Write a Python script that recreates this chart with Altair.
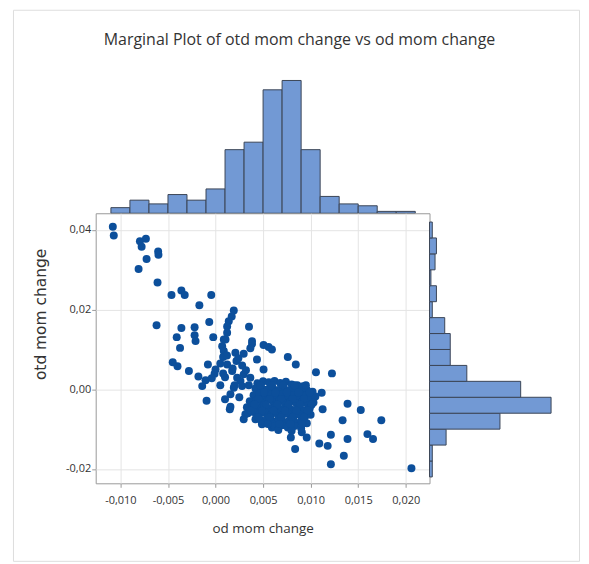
import altair as alt
import pandas as pd

# ---------------- data ----------------
od_mom_change = [
    -0.0108, -0.0107, -0.00795, -0.00732, -0.00777, -0.00725, -0.00809, -0.00603, -0.0060, -0.0061,
    -0.00463, -0.00359, -0.00324, -0.00045, -0.0017, -0.0062, -0.00359, -0.00408, -0.0022, -0.0022,
    -0.0021, -0.00066, -0.00024, 0.00192, 0.0017, 0.00139, 0.00122, 0.00087, 0.00352, 0.00384,
    -0.00373, -0.0045, -0.0040, -0.0028, -0.0018,
    0.00122, 0.00105, 0.0007, 0.00087, 0.0008, -0.0008, 0.0, -0.0001, -0.00105, -0.0014,
    -0.00094, 0.0015, 0.00296, 0.00314, 0.00209, 0.0022, 0.00296, 0.00384, 0.00366, 0.00505,
    0.00558, 0.00593, 0.00436, 0.00505, 0.0076, 0.00844, 0.01056, 0.01224,
    0.00122, 0.00175, 0.00227, 0.00262, 0.00279, 0.00296, 0.00366, 0.00192, 0.00157,
    0.0005, 0.0010, 0.0020, 0.0035, 0.0010, 0.0025, 0.0005,
    0.0012, 0.0028, 0.0018, 0.0032, 0.0008, -0.0004, 0.0024,
    0.01116, 0.01126, 0.01388, 0.01527, 0.01743, 0.01336, 0.01388, 0.01597, 0.01656, 0.01213,
    0.01091, 0.01179, 0.01349, 0.01213, 0.00792, 0.00837, 0.00907, 0.00959, 0.0206, 0.00488,
    0.00593, 0.00157,
    0.0044, 0.0050, 0.0056, 0.0062, 0.0068, 0.0074, 0.0080, 0.0086, 0.0092,
    0.0042, 0.0048, 0.0054, 0.0060, 0.0066, 0.0072, 0.0078, 0.0084, 0.0090, 0.0096, 0.0102,
    0.0040, 0.0046, 0.0052, 0.0058, 0.0064, 0.0070, 0.0076, 0.0082, 0.0088, 0.0094, 0.0100, 0.0105,
    0.0036, 0.0043, 0.0049, 0.0055, 0.0061, 0.0067, 0.0073, 0.0079, 0.0085, 0.0091, 0.0097, 0.0103,
    0.0033, 0.0039, 0.0045, 0.0051, 0.0057, 0.0063, 0.0069, 0.0075, 0.0081, 0.0087, 0.0093, 0.0099,
    0.0034, 0.0040, 0.0046, 0.0052, 0.0058, 0.0064, 0.0070, 0.0076, 0.0082, 0.0088, 0.0094, 0.0100,
    0.0042, 0.0048, 0.0054, 0.0060, 0.0066, 0.0072, 0.0078, 0.0084, 0.0090, 0.0096,
    0.0062, 0.0070, 0.0076, 0.0083, 0.0090, 0.0066, 0.0080,
    0.0047, 0.0059, 0.0071, 0.0083, 0.0095,
    0.0051, 0.0063, 0.0075, 0.0087, 0.0099,
    0.0045, 0.0057, 0.0069, 0.0081, 0.0093,
    0.0041, 0.0053, 0.0065, 0.0077, 0.0089, 0.0101,
    0.0037, 0.0049, 0.0061, 0.0073, 0.0085, 0.0097,
    0.0045, 0.0057, 0.0069, 0.0081, 0.0093,
    0.0055, 0.0067, 0.0079, 0.0091,
]
otd_mom_change = [
    0.0408, 0.0386, 0.0372, 0.0378, 0.0358, 0.0327, 0.0302, 0.0346, 0.0338, 0.0268,
    0.0237, 0.0248, 0.0237, 0.0237, 0.0211, 0.0161, 0.0154, 0.0131, 0.0156, 0.0136,
    0.0121, 0.0169, 0.0131, 0.0198, 0.0183, 0.0171, 0.0158, 0.0125, 0.0157, 0.0121,
    0.0104, 0.0068, 0.0058, 0.0046, 0.0032,
    0.0142, 0.0125, 0.0108, 0.0096, 0.0081, 0.00625, 0.005, 0.0039, 0.00225, 0.0008,
    -0.0029, -0.005, -0.0075, -0.00625, 0.0092, 0.0071, 0.0089, 0.0114, 0.0103, 0.0111,
    0.0106, 0.0100, 0.0075, 0.005, 0.0081, 0.00625, 0.0043, 0.0040,
    0.00625, 0.0046, 0.0029, 0.0021, 0.0008, 0.00375, 0.0029, 0.0004, -0.00125,
    0.0065, 0.0030, 0.0010, 0.0010, -0.0025, -0.0020, 0.0010,
    0.0085, 0.0060, 0.0052, 0.0048, 0.0040, 0.0028, 0.0078,
    -0.00085, -0.0050, -0.0036, -0.0052, -0.00775, -0.00775, -0.0125, -0.01125, -0.0125, -0.0114,
    -0.0136, -0.0142, -0.0167, -0.0188, -0.0121, -0.0150, -0.0108, -0.0121, -0.0198, -0.00875,
    -0.0096, -0.0044,
    0.0015, 0.0020, 0.0018, 0.0021, 0.0016, 0.0019, 0.0012, 0.0010, 0.0008,
    0.0002, 0.0005, -0.0001, 0.0004, -0.0002, 0.0003, -0.0003, 0.0001, -0.0004, -0.0002, -0.0006,
    -0.0015, -0.0011, -0.0018, -0.0013, -0.0019, -0.0012, -0.0020, -0.0015, -0.0022, -0.0016, -0.0024, -0.0018,
    -0.0030, -0.0028, -0.0034, -0.0026, -0.0033, -0.0029, -0.0036, -0.0030, -0.0035, -0.0031, -0.0038, -0.0033,
    -0.0045, -0.0040, -0.0047, -0.0042, -0.0049, -0.0044, -0.0050, -0.0045, -0.0052, -0.0047, -0.0053, -0.0048,
    -0.0060, -0.0057, -0.0063, -0.0058, -0.0065, -0.0060, -0.0066, -0.0061, -0.0068, -0.0063, -0.0069, -0.0064,
    -0.0075, -0.0079, -0.0073, -0.0080, -0.0076, -0.0082, -0.0077, -0.0084, -0.0079, -0.0085,
    -0.0093, -0.0090, -0.0096, -0.0092, -0.0098, -0.0102, -0.0104,
    0.0010, 0.0010, 0.0010, 0.0010, 0.0010,
    -0.0008, -0.0008, -0.0008, -0.0008, -0.0008,
    -0.0024, -0.0024, -0.0024, -0.0024, -0.0024,
    -0.0039, -0.0039, -0.0039, -0.0039, -0.0039, -0.0039,
    -0.0054, -0.0054, -0.0054, -0.0054, -0.0054, -0.0054,
    -0.0070, -0.0070, -0.0070, -0.0070, -0.0070,
    -0.0087, -0.0087, -0.0087, -0.0087,
]

top_bin_start = [-0.011, -0.009, -0.007, -0.005, -0.003, -0.001, 0.001, 0.003,
                 0.005, 0.007, 0.009, 0.011, 0.013, 0.015, 0.017, 0.019]
top_bin_end = [-0.009, -0.007, -0.005, -0.003, -0.001, 0.001, 0.003, 0.005,
               0.007, 0.009, 0.011, 0.013, 0.015, 0.017, 0.019, 0.021]
top_counts = [3, 7, 5, 10, 7, 13, 34, 38, 66, 71, 34, 9, 5, 4, 1, 1]

right_bin_start = [-0.022, -0.018, -0.014, -0.010, -0.006, -0.002, 0.002, 0.006,
                   0.010, 0.014, 0.018, 0.022, 0.026, 0.030, 0.034, 0.038]
right_bin_end = [-0.018, -0.014, -0.010, -0.006, -0.002, 0.002, 0.006, 0.010,
                 0.014, 0.018, 0.022, 0.026, 0.030, 0.034, 0.038, 0.042]
right_counts = [2, 2, 12, 51, 88, 66, 27, 15, 15, 11, 2, 5, 1, 4, 5, 2]

x_ticks = [-0.010, -0.005, 0.0, 0.005, 0.010, 0.015, 0.020]
y_ticks = [-0.02, 0.0, 0.02, 0.04]

# ---------------- styling ----------------
POINT = "#0c4f9b"
FILL = "#7299d4"
EDGE = "#3b4556"
FONT = "Open Sans"
W, H = 335, 271
TOP_H, RIGHT_W = 137, 130

x_scale = alt.Scale(domain=[-0.0126, 0.0225], nice=False, zero=False)
y_scale = alt.Scale(domain=[-0.0236, 0.0442], nice=False, zero=False)

pts = pd.DataFrame({"od": od_mom_change, "otd": otd_mom_change})
top_df = pd.DataFrame({"start": top_bin_start, "end": top_bin_end, "count": top_counts})
right_df = pd.DataFrame({"start": right_bin_start, "end": right_bin_end, "count": right_counts})

x_axis = alt.Axis(
    values=x_ticks, title="od mom change",
    labelExpr="replace(replace(format(datum.value, '.3f'), '.', ','), '\u2212', '-')",
    labelFont=FONT, labelFontSize=11, labelColor="#333333", labelPadding=7,
    tickSize=4, tickColor="#9a9a9a", domain=False,
    grid=True, gridColor="#e4e4e4",
    titleFont=FONT, titleFontSize=13.5, titleFontWeight="normal", titleColor="#333333",
    titleY=38,
)
y_axis = alt.Axis(
    values=y_ticks, title="otd mom change",
    labelExpr="replace(replace(format(datum.value, '.2f'), '.', ','), '\u2212', '-')",
    labelFont=FONT, labelFontSize=11, labelColor="#333333", labelPadding=1,
    tickSize=4, tickColor="#9a9a9a", domain=False,
    grid=True, gridColor="#e4e4e4",
    titleFont="DejaVu Sans", titleFontSize=15.5, titleFontWeight="normal", titleColor="#333333",
    titleX=-47, titleY=101, titleAlign="center", titleAngle=270,
)

points = alt.Chart(pts).mark_point(filled=True, size=64, opacity=1, color=POINT).encode(
    x=alt.X("od:Q", scale=x_scale, axis=x_axis),
    y=alt.Y("otd:Q", scale=y_scale, axis=y_axis),
)

frame = alt.Chart(pd.DataFrame({"f": [0]})).mark_rect(
    fill="transparent", stroke="#dedede", strokeWidth=1
).encode(
    x=alt.value(-82.5), x2=alt.value(485.5),
    y=alt.value(-203.7), y2=alt.value(349.3),
)

scatter = alt.layer(frame, points).properties(
    width=W, height=H,
    view=alt.ViewBackground(stroke="#9a9a9a", strokeWidth=1),
)

top = alt.Chart(top_df).mark_rect(fill=FILL, stroke=EDGE, strokeWidth=1).encode(
    x=alt.X("start:Q", scale=x_scale, axis=None),
    x2="end:Q",
    y=alt.Y("count:Q", scale=alt.Scale(domain=[0, 73]), axis=None),
    y2=alt.datum(0),
).properties(
    width=W, height=TOP_H,
    title=alt.Title(
        text="Marginal Plot of otd mom change vs od mom change",
        frame="group", anchor="middle", offset=29, dx=37,
        font=FONT, fontSize=16, fontWeight="normal", color="#333333",
    ),
)

right = alt.Chart(right_df).mark_rect(fill=FILL, stroke=EDGE, strokeWidth=1).encode(
    y=alt.Y("start:Q", scale=y_scale, axis=None),
    y2="end:Q",
    x=alt.X("count:Q", scale=alt.Scale(domain=[0, 93.8]), axis=None),
    x2=alt.datum(0),
).properties(width=RIGHT_W, height=H)

chart = alt.vconcat(
    top,
    alt.hconcat(scatter, right, spacing=0, bounds="flush"),
    spacing=0, bounds="flush",
).properties(
    background="white",
    padding={"left": 4, "top": 0, "right": 0, "bottom": 0},
).configure_view(stroke=None)

chart.save("out.html", embed_options={"renderer": "svg", "actions": False})
